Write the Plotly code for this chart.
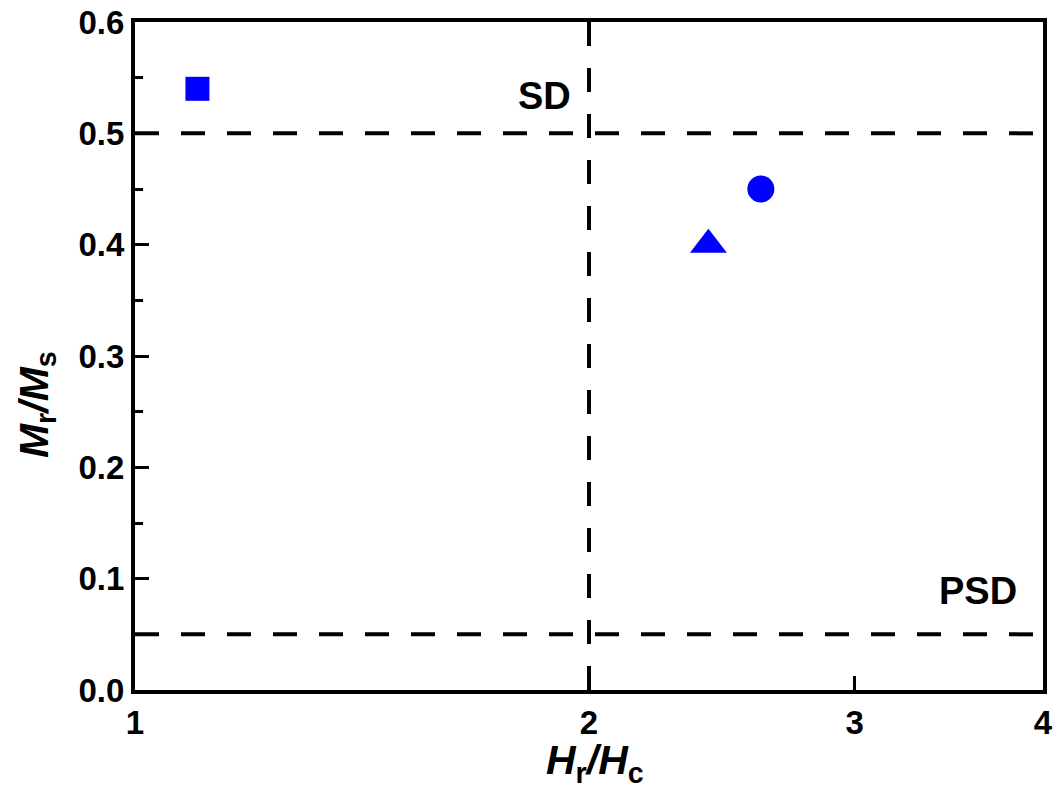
import plotly.graph_objects as go

# Samples: Hr/Hc (x, log scale) vs Mr/Ms (y)
hr_hc = [1.10, 2.60, 2.40]
mr_ms = [0.54, 0.45, 0.40]
symbols = ["square", "circle", "triangle-up"]
sizes = [24, 27, 32]

# Day-plot domain boundaries
sd_psd_ratio = [0.5]        # Mr/Ms upper boundary
psd_md_ratio = [0.05]       # Mr/Ms lower boundary
hr_hc_boundary = [2.0]      # Hr/Hc boundary

x_range = [1, 4]
y_range = [0, 0.6]
x_ticks = [1, 2, 3, 4]
y_ticks = [0.0, 0.1, 0.2, 0.3, 0.4, 0.5, 0.6]

FONT = "Liberation Sans, Arial, sans-serif"
DASH = "24px,22px"

fig = go.Figure()

for yv in sd_psd_ratio + psd_md_ratio:
    fig.add_trace(go.Scatter(
        x=x_range, y=[yv, yv], mode="lines",
        line=dict(color="black", width=4, dash=DASH),
        showlegend=False, hoverinfo="skip", cliponaxis=False,
    ))
for xv in hr_hc_boundary:
    fig.add_trace(go.Scatter(
        x=[xv, xv], y=y_range, mode="lines",
        line=dict(color="black", width=4, dash=DASH),
        showlegend=False, hoverinfo="skip", cliponaxis=False,
    ))

for x, y, s, sz in zip(hr_hc, mr_ms, symbols, sizes):
    fig.add_trace(go.Scatter(
        x=[x], y=[y], mode="markers",
        marker=dict(symbol=s, size=sz, color="#0000FF", line=dict(width=0)),
        showlegend=False, cliponaxis=False,
    ))

tickfont = dict(family=FONT, size=33, color="black", weight="bold")

fig.update_xaxes(
    type="log", range=[0, 0.60206], tickvals=x_ticks,
    ticktext=[str(v) for v in x_ticks], tickfont=tickfont,
    ticks="inside", ticklen=14, tickwidth=3, tickcolor="black",
    showline=True, linewidth=4, linecolor="black", mirror=True,
    showgrid=False, zeroline=False, automargin=False,
)
fig.update_yaxes(
    range=y_range, tickvals=y_ticks, tickformat=".1f", tickfont=tickfont,
    ticks="inside", ticklen=14, tickwidth=3, tickcolor="black",
    minor=dict(dtick=0.05, ticks="inside", ticklen=8, tickwidth=3, tickcolor="black"),
    showline=True, linewidth=4, linecolor="black", mirror=True,
    showgrid=False, zeroline=False, automargin=False,
)

label_font = dict(family=FONT, size=38, color="black", weight="bold")
title_font = dict(family=FONT, size=41, color="black", weight="bold")

fig.add_annotation(text="SD", xref="paper", yref="paper", x=0.4515, y=0.889,
                   showarrow=False, font=label_font, xanchor="center", yanchor="middle")
fig.add_annotation(text="PSD", xref="paper", yref="paper", x=0.928, y=0.148,
                   showarrow=False, font=label_font, xanchor="center", yanchor="middle")

fig.add_annotation(text="<i>H</i><sub>r</sub><i>/H</i><sub>c</sub>",
                   xref="paper", yref="paper", x=0.507, y=-0.11,
                   showarrow=False, font=title_font, xanchor="center", yanchor="middle")
fig.add_annotation(text="<i>M</i><sub>r</sub><i>/M</i><sub>s</sub>",
                   xref="paper", yref="paper", x=-0.108, y=0.428, textangle=-90,
                   showarrow=False, font=title_font, xanchor="center", yanchor="middle")

fig.update_layout(
    width=1056, height=792,
    margin=dict(l=135, r=13, t=22, b=102),
    plot_bgcolor="white", paper_bgcolor="white",
    showlegend=False,
)

fig.write_html("out.html")
